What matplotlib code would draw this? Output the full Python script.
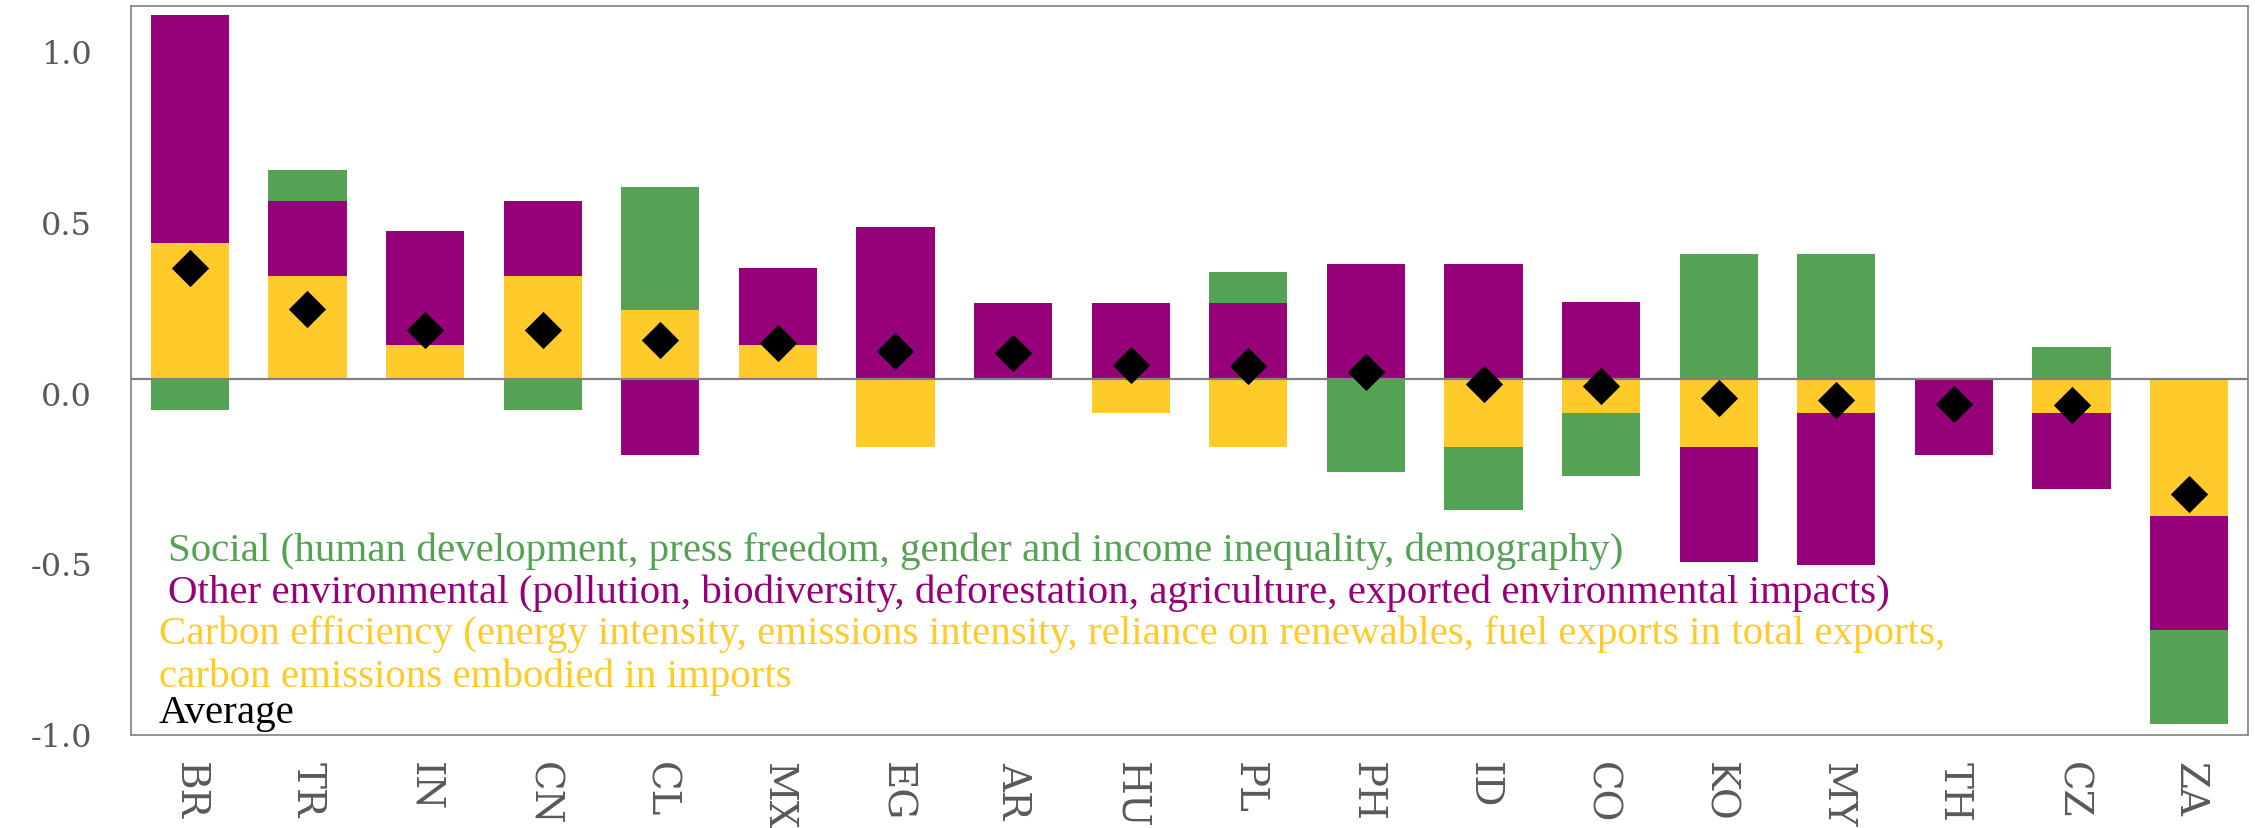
import matplotlib
matplotlib.use("Agg")
import matplotlib.pyplot as plt
import matplotlib.transforms as mtransforms
import numpy as np

countries = ["BR", "TR", "IN", "CN", "CL", "MX", "EG", "AR", "HU", "PL",
             "PH", "ID", "CO", "KO", "MY", "TH", "CZ", "ZA"]
carbon = [0.399, 0.300, 0.099, 0.300, 0.200, 0.100, -0.199, 0.0, -0.100, -0.199,
          0.0, -0.200, -0.100, -0.200, -0.100, 0.0, -0.100, -0.402]
other_env = [0.668, 0.221, 0.335, 0.221, -0.223, 0.224, 0.444, 0.223, 0.223, 0.223,
             0.335, 0.335, 0.224, -0.336, -0.446, -0.223, -0.224, -0.335]
social = [-0.092, 0.091, 0.0, -0.092, 0.363, 0.0, 0.0, 0.0, 0.0, 0.090,
          -0.272, -0.184, -0.184, 0.366, 0.366, 0.0, 0.092, -0.274]
average = [0.325, 0.203, 0.143, 0.143, 0.112, 0.106, 0.081, 0.074, 0.041, 0.037,
           0.020, -0.017, -0.020, -0.057, -0.061, -0.074, -0.078, -0.337]

yticks = [-1.0, -0.5, 0.0, 0.5, 1.0]
ytick_labels = ["-1.0", "-0.5", "0.0", "0.5", "1.0"]

legend_lines = [
    "Social (human development, press freedom, gender and income inequality, demography)",
    "Other environmental (pollution, biodiversity, deforestation, agriculture, exported environmental impacts)",
    "Carbon efficiency (energy intensity, emissions intensity, reliance on renewables, fuel exports in total exports,",
    "carbon emissions embodied in imports",
    "Average",
]

GREEN = "#54A354"
PURPLE = "#960078"
YELLOW = "#FFCB2B"
GREY = "#595959"

W, H = 2255, 829
fig = plt.figure(figsize=(W / 100, H / 100), dpi=100)
ax = fig.add_axes([131 / W, 1 - 736 / H, (2248 - 131) / W, (736 - 7) / H])

x = np.arange(len(countries))
width = 0.665
pos_base = np.zeros(len(countries))
neg_base = np.zeros(len(countries))
for vals, col in [(carbon, YELLOW), (other_env, PURPLE), (social, GREEN)]:
    v = np.array(vals)
    bottoms = np.where(v >= 0, pos_base, neg_base)
    ax.bar(x, v, width, bottom=bottoms, color=col, linewidth=0, zorder=2)
    pos_base = pos_base + np.where(v >= 0, v, 0)
    neg_base = neg_base + np.where(v < 0, v, 0)

ax.axhline(0, color="#808080", linewidth=1.6, zorder=3)
ax.scatter(x, average, marker="D", s=19 ** 2, color="black", zorder=4, linewidths=0)

ax.set_xlim(-0.5, len(countries) - 0.5)
ax.set_ylim(-1.044, 1.092)
ax.set_yticks(yticks)
ax.set_yticklabels(ytick_labels, fontfamily="DejaVu Serif", fontsize=23, color=GREY)
ax.set_xticks(x)
ax.set_xticklabels(countries, rotation=270, fontfamily="DejaVu Serif", fontsize=28,
                   color=GREY, va="top", ha="center")
ax.tick_params(axis="both", length=0)
ax.tick_params(axis="y", pad=28)
ax.tick_params(axis="x", pad=19)
offset = mtransforms.ScaledTranslation(0, -14 / 100, fig.dpi_scale_trans)
for lab in ax.get_yticklabels():
    lab.set_transform(lab.get_transform() + offset)
for s in ax.spines.values():
    s.set_color("#808080")
    s.set_linewidth(1.2)

leg_pos = [(168, 561, GREEN), (168, 603, PURPLE), (159, 644, YELLOW),
           (159, 687, YELLOW), (159, 723, "black")]
for (px, py, col), txt in zip(leg_pos, legend_lines):
    fig.text(px / W, 1 - py / H, txt, color=col, fontsize=29.5,
             fontfamily="Liberation Serif", va="baseline", ha="left")

fig.savefig("out.png", dpi=100)
